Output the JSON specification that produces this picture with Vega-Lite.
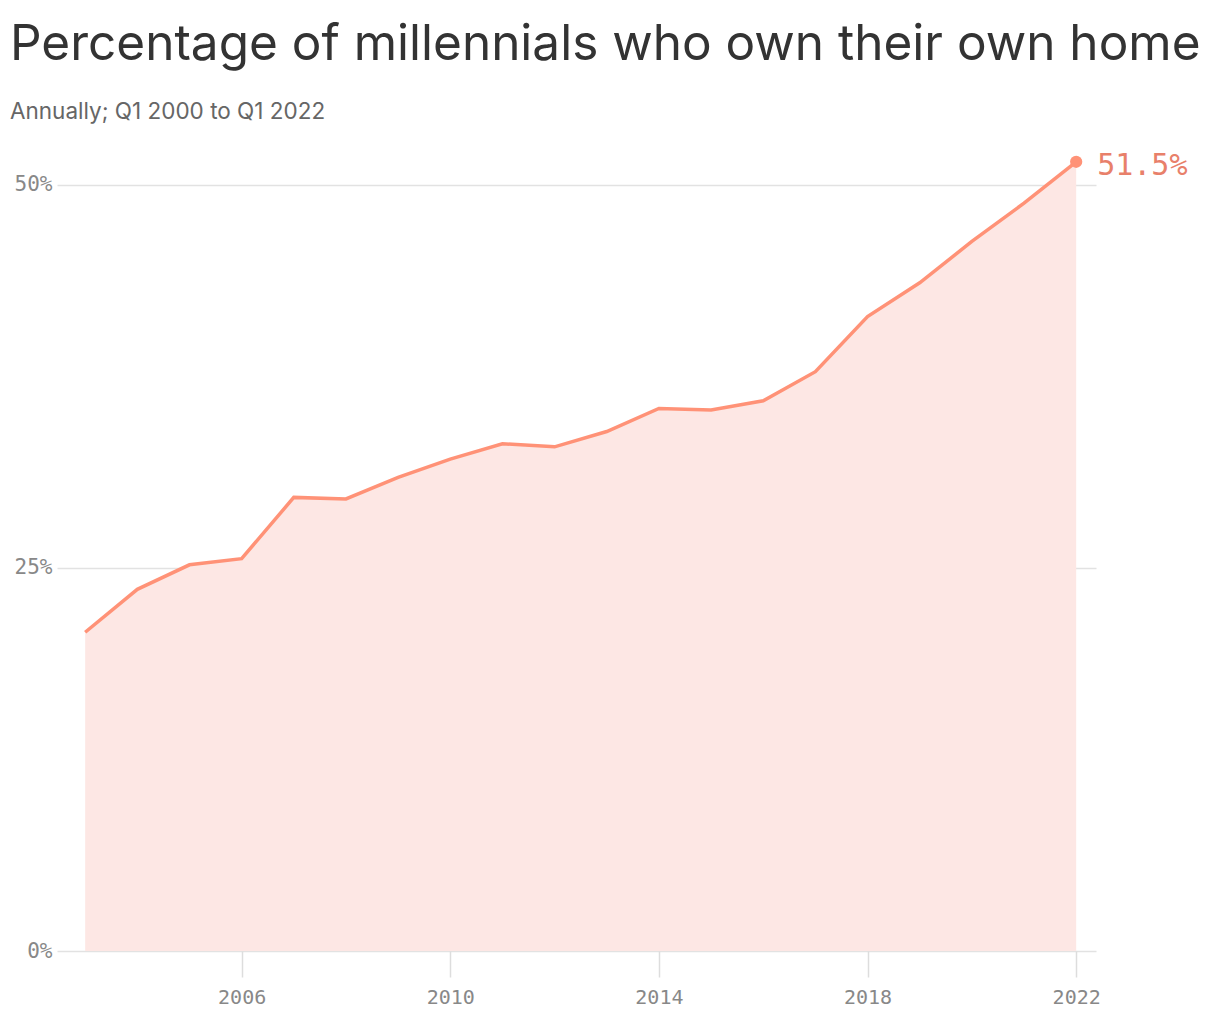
{
  "$schema": "https://vega.github.io/schema/vega-lite/v6.json",
  "autosize": "none",
  "width": 1039,
  "height": 790,
  "padding": {"left": 57, "top": 161, "right": 124, "bottom": 69},
  "background": "white",
  "config": {"view": {"stroke": null}},
  "title": {
    "text": "Percentage of millennials who own their own home",
    "subtitle": "Annually; Q1 2000 to Q1 2022",
    "anchor": "start",
    "frame": "group",
    "dx": -47,
    "offset": 26,
    "font": "Inter",
    "fontSize": 49.5,
    "fontWeight": "normal",
    "color": "#333333",
    "subtitleFont": "Inter",
    "subtitleFontSize": 22.5,
    "subtitleColor": "#666666",
    "subtitlePadding": 31
  },
  "data": {
    "values": [
      {"year": 2003, "pct": 20.8},
      {"year": 2004, "pct": 23.6},
      {"year": 2005, "pct": 25.2},
      {"year": 2006, "pct": 25.6},
      {"year": 2007, "pct": 29.6},
      {"year": 2008, "pct": 29.5},
      {"year": 2009, "pct": 30.9},
      {"year": 2010, "pct": 32.1},
      {"year": 2011, "pct": 33.1},
      {"year": 2012, "pct": 32.9},
      {"year": 2013, "pct": 33.9},
      {"year": 2014, "pct": 35.4},
      {"year": 2015, "pct": 35.3},
      {"year": 2016, "pct": 35.9},
      {"year": 2017, "pct": 37.8},
      {"year": 2018, "pct": 41.4},
      {"year": 2019, "pct": 43.6},
      {"year": 2020, "pct": 46.3},
      {"year": 2021, "pct": 48.8},
      {"year": 2022, "pct": 51.5}
    ]
  },
  "encoding": {
    "x": {
      "field": "year",
      "type": "quantitative",
      "scale": {"domain": [2002.46, 2022.38], "nice": false, "zero": false},
      "axis": {
        "title": null,
        "values": [2006, 2010, 2014, 2018, 2022],
        "format": "d",
        "grid": false,
        "domain": false,
        "tickColor": "#dddddd",
        "tickWidth": 1.5,
        "tickSize": 26,
        "labelPadding": 10,
        "labelFont": "DejaVu Sans Mono",
        "labelFontSize": 20,
        "labelColor": "#888888"
      }
    },
    "y": {
      "field": "pct",
      "type": "quantitative",
      "scale": {"domain": [0, 51.55], "nice": false},
      "axis": {
        "title": null,
        "values": [0, 25, 50],
        "labelExpr": "datum.value + '%'",
        "grid": true,
        "gridColor": "#e2e2e2",
        "gridWidth": 1.5,
        "domain": false,
        "ticks": false,
        "labelPadding": 5,
        "labelFont": "DejaVu Sans Mono",
        "labelFontSize": 21,
        "labelColor": "#888888"
      }
    }
  },
  "layer": [
    {"mark": {"type": "area", "color": "#fde7e4", "opacity": 1}},
    {"mark": {"type": "line", "color": "#ff9277", "strokeWidth": 3.5}},
    {
      "transform": [{"filter": "datum.year == 2022"}],
      "mark": {"type": "circle", "color": "#ff9277", "opacity": 1, "size": 150}
    },
    {
      "transform": [{"filter": "datum.year == 2022"}],
      "mark": {
        "type": "text",
        "align": "left",
        "baseline": "middle",
        "dx": 21,
        "dy": 4,
        "font": "DejaVu Sans Mono",
        "fontSize": 30,
        "color": "#e8806a"
      },
      "encoding": {"text": {"value": "51.5%"}}
    }
  ]
}
